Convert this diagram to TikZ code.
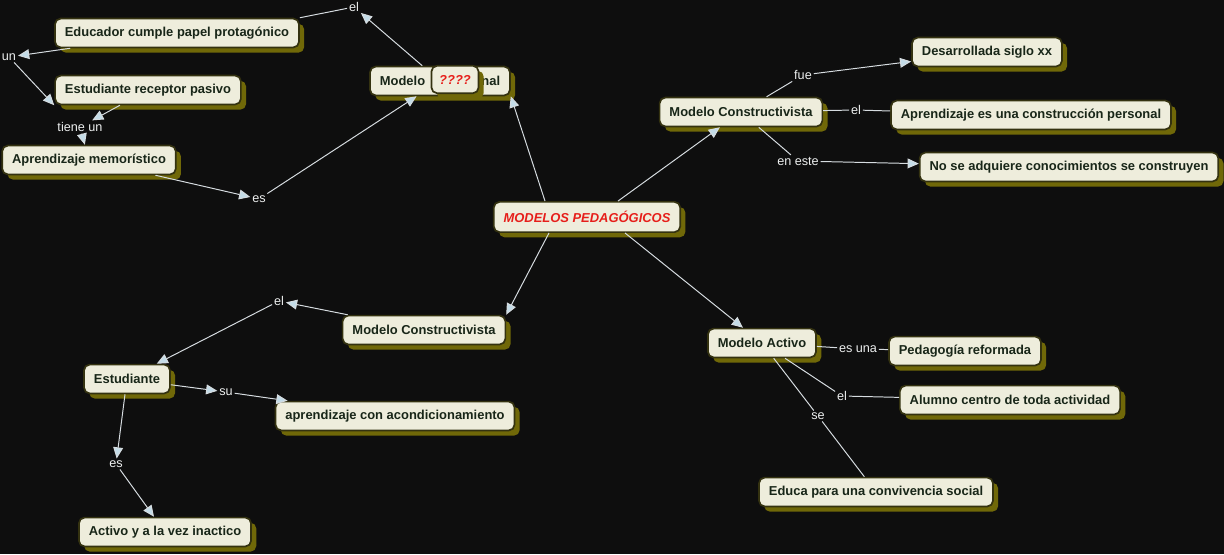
\documentclass[tikz,border=0pt]{standalone}
\usepackage{fontspec}
\setmainfont{Liberation Sans}
\usepackage{tikz}
\usetikzlibrary{arrows.meta, shadows, calc}
\usepackage{xcolor}

\definecolor{bgdark}{RGB}{14,14,14}
\definecolor{boxfill}{RGB}{238,237,220}
\definecolor{boxedge}{RGB}{52,50,16}
\definecolor{shadowolive}{RGB}{112,104,8}
\definecolor{textgreen}{RGB}{24,38,24}
\definecolor{linegray}{RGB}{214,220,224}
\definecolor{labelwhite}{RGB}{236,238,238}
\definecolor{tipblue}{RGB}{196,220,232}
\definecolor{titlered}{RGB}{230,30,26}

\begin{document}
\begin{tikzpicture}[
    x=0.025cm, y=-0.025cm,
    conceptbox/.style = {rectangle, draw=boxedge, fill=boxfill, line width=1.2pt, rounded corners=4pt, align=center, font=\fontsize{9.2}{11}\selectfont\bfseries, text=textgreen, inner xsep=7pt, minimum height=20.5pt, drop shadow={shadow xshift=0.13cm, shadow yshift=-0.13cm, fill=shadowolive, opacity=1}},
    titlebox/.style = {conceptbox, font=\fontsize{9.2}{11}\selectfont\bfseries\itshape, text=titlered, minimum height=21.5pt},
    linkbox/.style = {font=\fontsize{9}{10}\selectfont, text=labelwhite, inner sep=1.2pt},
    arrow/.style = {draw=linegray, line width=0.7pt, -{Triangle[width=7pt, length=8pt, fill=tipblue]}},
    plain/.style = {draw=linegray, line width=0.7pt}
]

\useasboundingbox[fill=bgdark] (0,0) rectangle (1224,554);

% Centre
\node (modelos) [titlebox] at (587,217) {MODELOS PEDAGÓGICOS};

% Upper left branch: traditional model
\node (tradicional) [conceptbox] at (440,81) {Modelo\hspace{40pt}nal};
\node (preguntas) [titlebox, minimum height=19.5pt, inner xsep=5.5pt] at (455,79.5) {????};
\node (educador) [conceptbox] at (177,33) {Educador cumple papel protagónico};
\node (receptor) [conceptbox] at (148,90) {Estudiante receptor pasivo};
\node (memoristico) [conceptbox] at (89,160) {Aprendizaje memorístico};

\node (el_a) [linkbox] at (354,7) {el};
\node (un_a) [linkbox] at (9,57) {un};
\node (tiene_a) [linkbox] at (80,127) {tiene un};
\node (es_a) [linkbox] at (259,199) {es};

% Upper right branch: constructivist model
\node (constr_a) [conceptbox] at (741,112) {Modelo Constructivista};
\node (siglo) [conceptbox] at (987,52) {Desarrollada siglo xx};
\node (personal) [conceptbox] at (1031,115) {Aprendizaje es una construcción personal};
\node (construyen) [conceptbox] at (1069,167) {No se adquiere conocimientos se construyen};

\node (fue_b) [linkbox] at (803,75) {fue};
\node (el_b) [linkbox] at (856,110) {el};
\node (eneste_b) [linkbox] at (798,161) {en este};

% Lower right branch: active model
\node (activo) [conceptbox] at (762,343) {Modelo Activo};
\node (reformada) [conceptbox] at (965,351) {Pedagogía reformada};
\node (alumno) [conceptbox] at (1010,400) {Alumno centro de toda actividad};
\node (convivencia) [conceptbox] at (876,492) {Educa para una convivencia social};

\node (esuna_c) [linkbox] at (858,349) {es una};
\node (el_c) [linkbox] at (842,396) {el};
\node (se_c) [linkbox] at (818,416) {se};

% Lower left branch: constructivist model (student)
\node (constr_d) [conceptbox] at (424,330) {Modelo Constructivista};
\node (estudiante) [conceptbox] at (127,379) {Estudiante};
\node (acondic) [conceptbox] at (395,416) {aprendizaje con acondicionamiento};
\node (inactico) [conceptbox] at (165,532) {Activo y a la vez inactico};

\node (el_d) [linkbox] at (279,301) {el};
\node (su_d) [linkbox] at (226,392) {su};
\node (es_d) [linkbox] at (116,464) {es};

% Connections from the centre
\draw [arrow] ($(modelos.north)+(-42,0)$) -- (tradicional.south east);
\draw [arrow] ($(modelos.north)+(31,0)$) -- (constr_a);
\draw [arrow] ($(modelos.south)+(38,0)$) -- (activo);
\draw [arrow] ($(modelos.south)+(-38,0)$) -- (constr_d.north east);

% Upper left
\draw [arrow] (tradicional) -- (el_a);
\draw [plain] (el_a) -- (educador.north east);
\draw [arrow] (educador) -- (un_a);
\draw [arrow] (un_a) -- (receptor.south west);
\draw [arrow] (receptor) -- (tiene_a);
\draw [arrow] (tiene_a) -- (memoristico);
\draw [arrow] (memoristico) -- (es_a);
\draw [arrow] (es_a) -- (tradicional);

% Upper right
\draw [plain] (constr_a) -- (fue_b);
\draw [arrow] (fue_b) -- (siglo);
\draw [plain] (constr_a) -- (el_b);
\draw [plain] (el_b) -- (personal);
\draw [plain] (constr_a) -- (eneste_b);
\draw [arrow] (eneste_b) -- (construyen);

% Lower right
\draw [plain] (activo) -- (esuna_c);
\draw [plain] (esuna_c) -- (reformada);
\draw [plain] (activo) -- (el_c);
\draw [plain] (el_c) -- (alumno);
\draw [plain] (activo) -- (se_c);
\draw [plain] (se_c) -- (convivencia);

% Lower left
\draw [arrow] (constr_d) -- (el_d);
\draw [arrow] (el_d) -- (estudiante);
\draw [arrow] (estudiante) -- (su_d);
\draw [arrow] (su_d) -- (acondic);
\draw [arrow] (estudiante) -- (es_d);
\draw [arrow] (es_d) -- (inactico);

\end{tikzpicture}
\end{document}
